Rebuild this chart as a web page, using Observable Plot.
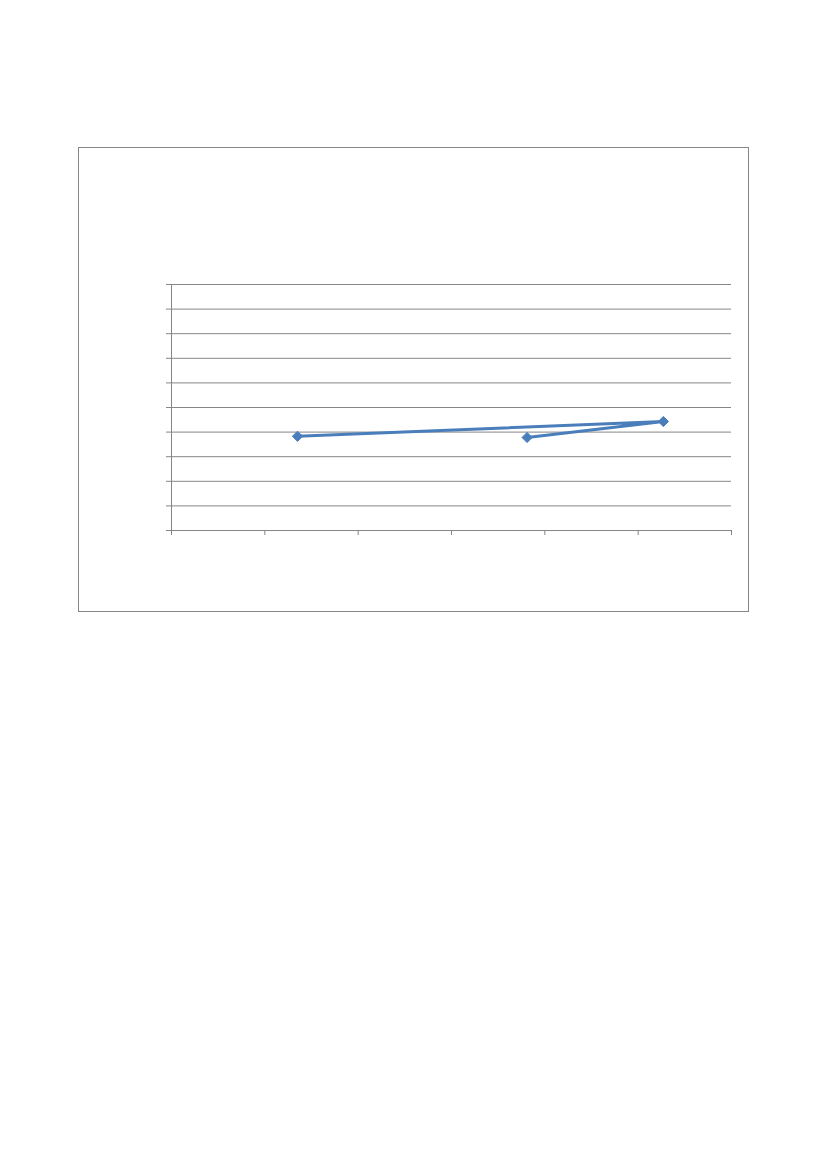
<!DOCTYPE html>
<html>
<head>
<meta charset="utf-8">
<script src="https://cdn.jsdelivr.net/npm/d3@7"></script>
<script src="https://cdn.jsdelivr.net/npm/@observablehq/plot@0.6"></script>
<style>
  html, body { margin: 0; padding: 0; background: #fff; width: 827px; height: 1169px; overflow: hidden; }
  #frame { position: absolute; left: 78px; top: 147px; width: 669px; height: 463px; border: 1px solid #868686; box-sizing: content-box; }
  #chart { position: absolute; left: 0; top: 0; }
</style>
</head>
<body>
<div id="frame"></div>
<div id="chart"></div>
<script>
// Series values (axes carry no labels)
const xValues = [1.35, 5.27, 3.81];
const yValues = [3.83, 4.43, 3.78];
const xTicks = [0, 1, 2, 3, 4, 5, 6];
const yTicks = [0, 1, 2, 3, 4, 5, 6, 7, 8, 9, 10];

const data = xValues.map((x, i) => ({x, y: yValues[i]}));
const blue = "#4a7ebb";
const grey = "#868686";

const chart = Plot.plot({
  width: 827,
  height: 620,
  marginLeft: 171,
  marginRight: 96,
  marginTop: 284,
  marginBottom: 90,
  x: {domain: [0, 6]},
  y: {domain: [0, 10]},
  style: {background: "transparent"},
  marks: [
    Plot.gridY(yTicks, {stroke: grey, strokeOpacity: 1, strokeWidth: 1}),
    Plot.axisY(yTicks, {tickSize: 5, tickFormat: () => "", stroke: grey, strokeOpacity: 1, label: null}),
    Plot.axisX(xTicks, {tickSize: 5, tickFormat: () => "", stroke: grey, strokeOpacity: 1, label: null}),
    Plot.ruleX([0], {stroke: grey, strokeWidth: 1}),
    Plot.ruleY([0], {stroke: grey, strokeWidth: 1}),
    Plot.line(data, {x: "x", y: "y", stroke: blue, strokeWidth: 3}),
    Plot.dot(data, {x: "x", y: "y", symbol: "diamond2", r: 4.6, fill: blue, stroke: blue, strokeWidth: 1})
  ]
});
document.getElementById("chart").appendChild(chart);
</script>
</body>
</html>
